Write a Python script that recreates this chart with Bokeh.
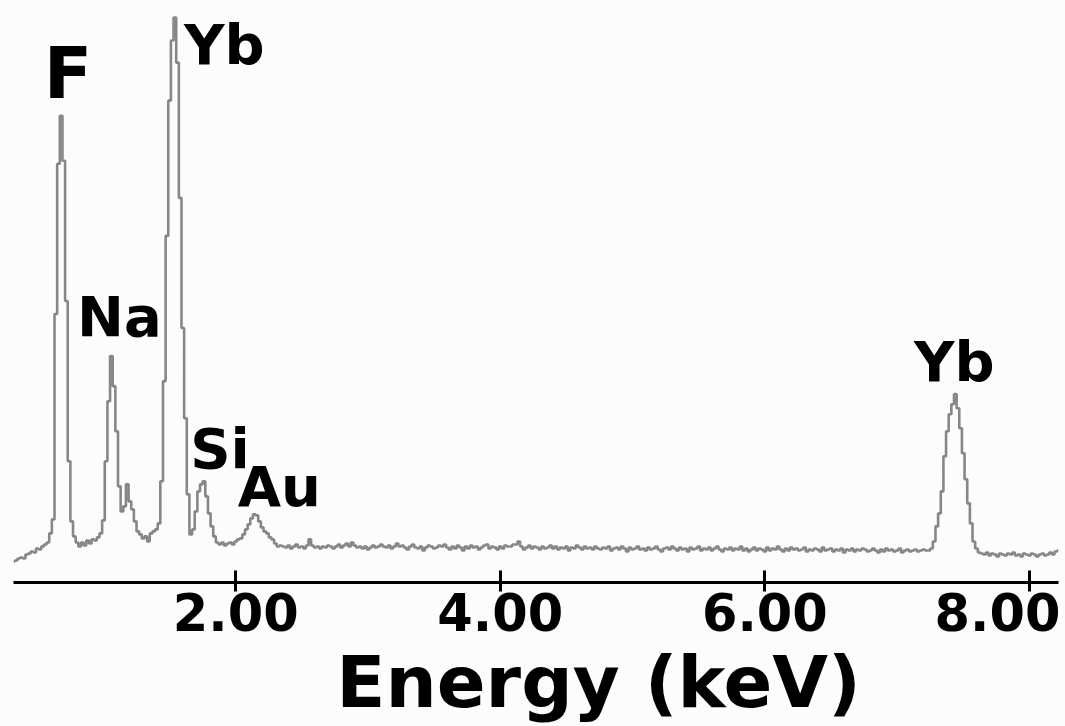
import numpy as np
from bokeh.plotting import figure
from bokeh.models import Range1d, FixedTicker
from bokeh.core.properties import value
from bokeh.embed import file_html
from bokeh.resources import INLINE

# ---------------- data ----------------
CHANNEL_START_KEV = 0.32
CHANNEL_WIDTH_KEV = 0.02

# counts, 0.32 - 2.34 keV (F, Na, Yb-M, Si, Au region)
counts_low = [
    21,
    22, 24, 25, 24, 28, 29, 31, 30, 34, 33,
    36, 38, 40, 49, 63, 268, 418, 466, 421, 281,
    121, 61, 46, 40, 36, 40, 37, 42, 39, 43,
    42, 45, 49, 62, 121, 181, 226, 196, 151, 96,
    71, 76, 98, 81, 73, 61, 51, 48, 44, 46,
    41, 49, 51, 53, 59, 101, 201, 346, 481, 541,
    564, 519, 384, 254, 164, 88, 48, 53, 71, 91,
    98, 101, 86, 69, 56, 46, 40, 38, 40, 37,
    39, 40, 38, 41, 43, 44, 48, 53, 58, 64,
    68, 67, 61, 55, 51, 49, 45, 43, 39, 36,
    37,
]

# counts, 2.36 - 7.22 keV (background)
counts_mid = [
    36, 35, 37, 34, 36, 38, 35, 36, 34, 37, 43, 37, 35, 36, 34, 36, 35, 37, 36, 34,
    36, 38, 35, 37, 39, 36, 40, 37, 35, 36, 34, 36, 33, 35, 37, 35, 36, 38, 36, 35,
    37, 34, 36, 39, 36, 37, 35, 33, 36, 38, 35, 34, 36, 32, 35, 37, 36, 34, 35, 37,
    36, 38, 35, 33, 36, 34, 37, 35, 32, 36, 34, 37, 35, 36, 33, 35, 37, 38, 34, 36,
    35, 33, 36, 34, 37, 36, 36, 38, 38, 41, 36, 33, 35, 37, 34, 36, 35, 33, 36, 34,
    35, 37, 34, 36, 33, 35, 34, 36, 32, 35, 34, 37, 35, 33, 36, 34, 35, 33, 36, 34,
    33, 35, 34, 36, 32, 34, 35, 33, 36, 34, 31, 35, 33, 34, 36, 33, 34, 32, 35, 33,
    34, 36, 33, 31, 34, 35, 33, 36, 34, 32, 35, 33, 34, 31, 35, 33, 34, 36, 32, 34,
    33, 35, 32, 34, 36, 33, 31, 34, 33, 35, 32, 34, 33, 36, 32, 34, 31, 33, 35, 32,
    34, 33, 31, 35, 32, 34, 33, 36, 33, 31, 34, 32, 35, 33, 34, 32, 33, 35, 31, 33,
    32, 34, 33, 31, 35, 32, 33, 34, 31, 33, 32, 34, 30, 33, 32, 34, 31, 33, 32, 34,
    33, 31, 32, 34, 32, 30, 33, 31, 34, 32, 33, 31, 32, 34, 30, 32, 33, 31, 32, 33,
    31, 32, 33, 32,
]

# counts, 7.24 - 8.22 keV (Yb-L region)
counts_high = [
    32, 34, 41, 56, 69, 91, 126, 151, 168, 178,
    188, 174, 154, 129, 103, 79, 59, 41, 34, 30,
    29, 28, 30, 27, 29, 28, 26, 29, 28, 27,
    29, 28, 30, 27, 28, 26, 29, 28, 27, 29,
    28, 26, 28, 29, 27, 28, 30, 28, 31, 32,
]

tick_values = [2, 4, 6, 8]
tick_labels = ["2.00", "4.00", "6.00", "8.00"]
axis_title = "Energy (keV)"

peak_labels = ["F", "Na", "Yb", "Si", "Au", "Yb"]
peak_energies = [0.68, 1.06, 1.54, 1.76, 2.14, 7.44]

# ---------------- styling ----------------
BG = "#fcfcfc"
LINE = "#878787"
FONT = "DejaVu Sans"
NBSP = "\u00a0"
HAIR = "\u200a"

counts = np.array(counts_low + counts_mid + counts_high, dtype=float)
energy = CHANNEL_START_KEV + CHANNEL_WIDTH_KEV * np.arange(len(counts))

p = figure(
    width=1065, height=726,
    x_range=Range1d(energy[0], energy[-1]),
    y_range=Range1d(0, 573),
    output_backend="svg", toolbar_location=None,
    min_border_left=13, min_border_right=7, min_border_top=8, min_border_bottom=0,
    background_fill_color=BG, border_fill_color=BG,
)
p.outline_line_color = None
p.grid.visible = False
p.yaxis.visible = False

p.step(energy, counts, mode="center", line_color=LINE, line_width=2.6)

# axis
ax = p.xaxis[0]
ax.ticker = FixedTicker(ticks=tick_values)
overrides = {}
for t, lab in zip(tick_values, tick_labels):
    overrides[t] = lab
overrides[tick_values[-1]] = tick_labels[-1] + HAIR
ax.major_label_overrides = overrides
ax.axis_line_width = 3
ax.axis_line_color = "black"
ax.major_tick_line_width = 3
ax.major_tick_line_color = "black"
ax.major_tick_in = 12
ax.major_tick_out = 9
ax.minor_tick_line_color = None
ax.major_label_text_font = FONT
ax.major_label_text_font_style = "bold"
ax.major_label_text_font_size = "51px"
ax.major_label_text_color = "black"
ax.major_label_standoff = -8
ax.axis_label = NBSP * 5 + axis_title
ax.axis_label_text_font = FONT
ax.axis_label_text_font_style = "bold"
ax.axis_label_text_font_size = "72px"
ax.axis_label_text_color = "black"
ax.axis_label_standoff = -6

# peak labels: (font size px, align, x offset px, y offset px of baseline vs peak top)
label_style = [
    (71, "center", 7, -13),
    (56, "center", 8, -17),
    (56, "left", 9, 50),
    (56, "center", 16, -10),
    (56, "center", 25, -5),
    (56, "center", -1, -10),
]
for lab, e0, (fs, al, xo, yo) in zip(peak_labels, peak_energies, label_style):
    idx = np.where(np.abs(energy - e0) <= 0.03)[0]
    k = idx[np.argmax(counts[idx])]
    p.text(x=[energy[k]], y=[counts[k]], text=[lab],
           text_font=value(FONT), text_font_style="bold", text_font_size=f"{fs}px",
           text_align=al, text_baseline="alphabetic", text_color="black",
           x_offset=xo, y_offset=yo - round(0.41 * fs))

open("out.html", "w").write(file_html(p, INLINE))
